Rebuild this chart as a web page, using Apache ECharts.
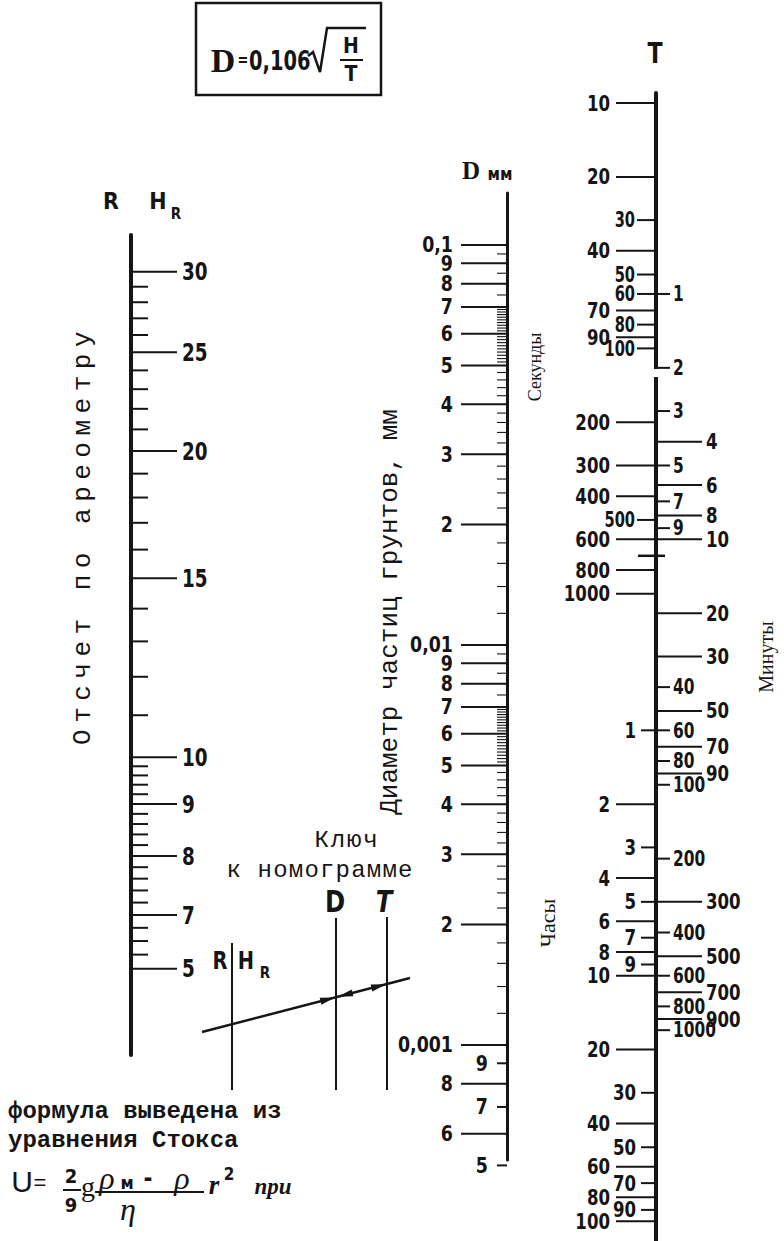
<!DOCTYPE html>
<html><head><meta charset="utf-8">
<script src="https://cdn.jsdelivr.net/npm/echarts@6/dist/echarts.min.js"></script>
<style>html,body{margin:0;padding:0;background:#fff}#c{width:784px;height:1241px}</style>
</head><body><div id="c"></div>
<script>
// ---------------- DATA ----------------
// R / H_R scale (hydrometer reading); last labelled tick printed "5" sits at reading ~6.2
const rMajor = [30, 25, 20, 15, 10, 9, 8, 7, 6.2];
const rMajorText = ['30', '25', '20', '15', '10', '9', '8', '7', '5'];
const rMinor = [29, 28, 27, 26, 24, 23, 22, 21, 19, 18, 17, 16, 14, 13, 12, 11,
  9.8, 9.6, 9.4, 9.2, 8.8, 8.6, 8.4, 8.2, 7.8, 7.6, 7.4, 7.2, 6.8, 6.6, 6.4];

// D scale, particle diameter, mm
const dMajor = [0.1, 0.09, 0.08, 0.07, 0.06, 0.05, 0.04, 0.03, 0.02,
  0.01, 0.009, 0.008, 0.007, 0.006, 0.005, 0.004, 0.003, 0.002,
  0.001, 0.0008, 0.0006];
const dMajorText = ['0,1', '9', '8', '7', '6', '5', '4', '3', '2',
  '0,01', '9', '8', '7', '6', '5', '4', '3', '2',
  '0,001', '8', '6'];
const dShort = [0.0009, 0.0007, 0.0005];
const dShortText = ['9', '7', '5'];
const dMinor = [0.095, 0.085, 0.075, 0.069, 0.068, 0.067, 0.066, 0.065, 0.064, 0.063, 0.062, 0.061,
  0.059, 0.058, 0.057, 0.056, 0.055, 0.054, 0.053, 0.052, 0.051, 0.048, 0.046, 0.044, 0.042,
  0.038, 0.036, 0.034, 0.032, 0.028, 0.026, 0.024, 0.022, 0.018, 0.016, 0.014, 0.012,
  0.0095, 0.0085, 0.0075, 0.0069, 0.0068, 0.0067, 0.0066, 0.0065, 0.0064, 0.0063, 0.0062, 0.0061,
  0.0059, 0.0058, 0.0057, 0.0056, 0.0055, 0.0054, 0.0053, 0.0052, 0.0051, 0.0048, 0.0046, 0.0044, 0.0042,
  0.0038, 0.0036, 0.0034, 0.0032, 0.0028, 0.0026, 0.0024, 0.0022, 0.0018, 0.0016, 0.0014, 0.0012];

// T scale: seconds (left), minutes (right), hours (left)
const secLong = [10, 20, 40, 70, 90, 200, 300, 400, 600, 800, 1000];
const secShort = [30, 50, 60, 80, 100, 500];
const secMark = [700];
const minLong = [4, 6, 8, 10, 20, 30, 50, 70, 90, 300, 500, 700, 900];
const minShort = [1, 2, 3, 5, 7, 9, 40, 60, 80, 100, 200, 400, 600, 800, 1000];
const hourLong = [2, 4, 6, 8, 10, 20, 40, 60, 80, 100];
const hourShort = [1, 3, 5, 7, 9, 30, 50, 70, 90];

// axis ranges (value at bottom / top end of each scale line)
const rRange = [5.10, 32.6];
const dRange = [0.0005158, 0.1349];
const tSecRange = [9.104, 433800];

// ---------------- CHART ----------------
const INK = '#151515';
const NUMF = "'Liberation Sans Narrow','DejaVu Sans Condensed','Roboto Condensed',sans-serif";
const MONO = "'Liberation Mono','DejaVu Sans Mono',monospace";
const SERIF = "'Liberation Serif','DejaVu Serif',serif";

const chart = echarts.init(document.getElementById('c'), null, {renderer: 'svg', width: 784, height: 1241});

function ticks(name, gi, yi, values, texts, o) {
  return {
    type: 'custom', name, coordinateSystem: 'cartesian2d', xAxisIndex: gi, yAxisIndex: yi,
    silent: true, animation: false, clip: false,
    data: values.map(v => [0, v]),
    renderItem: function (params, api) {
      const p = api.coord([0, api.value(1)]);
      const x = p[0], y = p[1];
      const ch = [{type: 'line', shape: {x1: x + o.t1, y1: y, x2: x + o.t2, y2: y},
        style: {stroke: INK, lineWidth: o.w || 2}}];
      if (texts) {
        ch.push({type: 'text', x: x + o.lx, y: y + (o.dy || 0), scaleX: o.sx || 0.84,
          style: {text: texts[params.dataIndex], fill: INK, align: o.align, verticalAlign: 'middle',
            fontSize: o.fs || 22, fontFamily: NUMF, fontWeight: 'bold'}});
      }
      return {type: 'group', children: ch};
    }
  };
}

const hiddenX = i => ({gridIndex: i, type: 'value', min: 0, max: 1, show: false});
const lineAxis = (i, range, width, extra) => Object.assign({
  gridIndex: i, type: 'log', logBase: 10, min: range[0], max: range[1], position: 'left',
  axisLine: {show: true, onZero: false, lineStyle: {color: INK, width: width}},
  axisTick: {show: false}, axisLabel: {show: false}, splitLine: {show: false}
}, extra || {});

// key-diagram geometry (illustration only)
const kA = [202, 1032], kB = [410, 978];
const kd = [kB[0] - kA[0], kB[1] - kA[1]];
const kl = Math.hypot(kd[0], kd[1]);
const ku = [kd[0] / kl, kd[1] / kl], kn = [-ku[1], ku[0]];
const yAtX = x => kA[1] + kd[1] * (x - kA[0]) / kd[0];
function arrow(tipX, dir) {
  const tip = [tipX, yAtX(tipX)];
  const b = [tip[0] - dir * 15 * ku[0], tip[1] - dir * 15 * ku[1]];
  return {type: 'polygon', shape: {points: [tip, [b[0] + 3.5 * kn[0], b[1] + 3.5 * kn[1]], [b[0] - 3.5 * kn[0], b[1] - 3.5 * kn[1]]]},
    style: {fill: INK}};
}
function txt(x, y, text, font, extra) {
  extra = extra || {};
  return {type: 'text', x, y, rotation: extra.rotation || 0, scaleX: extra.sx || 1,
    style: Object.assign({text, fill: INK, align: 'center', verticalAlign: 'middle', font}, extra.style || {})};
}
const vtxt = (x, y, text, font) => txt(x, y, text, font, {rotation: Math.PI / 2});
const seg = (x1, y1, x2, y2, w) => ({type: 'line', shape: {x1, y1, x2, y2}, style: {stroke: INK, lineWidth: w || 2}});

const graphics = [
  // formula box
  {type: 'rect', shape: {x: 196, y: 3, width: 185, height: 92}, style: {fill: 'none', stroke: INK, lineWidth: 2.5}},
  txt(223, 60, 'D', "bold 34px " + SERIF),
  txt(243, 60, '=', "bold 18px " + NUMF, {sx: 0.8}),
  txt(249, 61, '0,106', "bold 27px " + NUMF, {sx: 0.8, style: {align: 'left'}}),
  {type: 'polyline', shape: {points: [[308, 56], [313, 52], [320, 72], [327, 28], [366, 28]]}, style: {stroke: INK, lineWidth: 2.5, fill: 'none'}},
  txt(351, 46, 'H', "bold 21px " + NUMF),
  seg(340, 60, 363, 60, 2),
  txt(351, 74, 'T', "bold 21px " + NUMF),
  // scale headers
  txt(111, 201, 'R', "bold 23px " + NUMF),
  txt(158, 201, 'H', "bold 23px " + NUMF),
  txt(176, 214, 'R', "bold 15px " + NUMF),
  txt(471, 170, 'D', "bold 25px " + SERIF),
  txt(500, 174, 'мм', "bold 17px " + NUMF),
  txt(655, 53, 'T', "bold 29px " + NUMF, {sx: 0.85}),
  // vertical captions
  vtxt(83, 535, 'Отсчет по ареометру', "26px " + MONO),
  vtxt(390, 612, 'Диаметр частиц грунтов, мм', "26px " + MONO),
  vtxt(535, 367, 'Секунды', "18px " + SERIF),
  vtxt(547, 923, 'Часы', "22px " + SERIF),
  vtxt(766, 657, 'Минуты', "20px " + SERIF),
  // key to the nomogram
  txt(347, 840, 'Ключ', "24px " + MONO),
  txt(320, 870, 'к номограмме', "24px " + MONO),
  txt(335, 902, 'D', "bold 30px " + NUMF, {sx: 0.9}),
  txt(384, 902, 'T', "italic bold 30px " + NUMF, {sx: 0.9}),
  txt(220, 961, 'R', "bold 24px " + NUMF, {sx: 0.9}),
  txt(246, 961, 'H', "bold 24px " + NUMF, {sx: 0.9}),
  txt(265, 973, 'R', "bold 15px " + NUMF),
  seg(232, 943, 232, 1090, 2),
  seg(336, 918, 336, 1090, 2),
  seg(387, 917, 387, 1090, 2),
  seg(kA[0], kA[1], kB[0], kB[1], 2.5),
  arrow(335, 1), arrow(338, -1), arrow(386, 1),
  // Stokes note
  txt(8, 1111, 'формула выведена из', "bold 24px " + MONO, {style: {align: 'left'}}),
  txt(8, 1140, 'уравнения Стокса', "bold 24px " + MONO, {style: {align: 'left'}}),
  txt(22, 1181, 'U', "30px 'Liberation Sans',sans-serif"),
  txt(40, 1182, '=', "22px 'Liberation Sans',sans-serif"),
  txt(71, 1176, '2', "bold 20px " + NUMF),
  seg(63, 1190, 81, 1190, 2),
  txt(71, 1205, '9', "bold 20px " + NUMF),
  txt(88, 1186, 'g', "28px " + SERIF),
  txt(107, 1178, 'ρ', "italic 32px " + SERIF),
  txt(127, 1182, 'м', "bold 18px " + NUMF),
  txt(148, 1178, '-', "bold 24px " + NUMF),
  txt(182, 1178, 'ρ', "italic 32px " + SERIF),
  seg(95, 1192, 204, 1192, 2),
  txt(128, 1209, 'η', "italic 32px " + SERIF),
  txt(214, 1185, 'r', "italic bold 27px " + SERIF),
  txt(229, 1174, '2', "bold 17px " + NUMF),
  txt(273, 1186, 'при', "italic bold 23px " + SERIF),
  // small break in the T line
  {type: 'rect', z: 100, shape: {x: 649, y: 369, width: 14, height: 8}, style: {fill: '#fff'}}
];

const option = {
  backgroundColor: '#ffffff',
  animation: false,
  grid: [
    {left: 131, top: 235, height: 820, width: 60, containLabel: false, outerBoundsMode: 'none'},
    {left: 507, top: 193, height: 967, width: 60, containLabel: false, outerBoundsMode: 'none'},
    {left: 656, top: 93, height: 1148, width: 60, containLabel: false, outerBoundsMode: 'none'}
  ],
  xAxis: [hiddenX(0), hiddenX(1), hiddenX(2)],
  yAxis: [
    lineAxis(0, rRange, 4),
    lineAxis(1, dRange, 3),
    lineAxis(2, tSecRange, 4, {inverse: true}),
    lineAxis(2, [tSecRange[0] / 60, tSecRange[1] / 60], 0, {inverse: true, show: false}),
    lineAxis(2, [tSecRange[0] / 3600, tSecRange[1] / 3600], 0, {inverse: true, show: false})
  ],
  series: [
    ticks('R major', 0, 0, rMajor, rMajorText, {t1: 0, t2: 46, lx: 51, align: 'left', fs: 24, sx: 0.85}),
    ticks('R minor', 0, 0, rMinor, null, {t1: 0, t2: 17}),
    ticks('D major', 1, 1, dMajor, dMajorText, {t1: -46, t2: 0, lx: -54, align: 'right', fs: 22, sx: 0.88}),
    ticks('D short', 1, 1, dShort, dShortText, {t1: -10, t2: 0, lx: -19, align: 'right', fs: 22, sx: 0.88}),
    ticks('D minor', 1, 1, dMinor, null, {t1: -10, t2: 0, w: 1.1}),
    ticks('sec long', 2, 2, secLong, secLong.map(String), {t1: -40, t2: 0, lx: -46, align: 'right'}),
    ticks('sec short', 2, 2, secShort, secShort.map(String), {t1: -19, t2: 0, lx: -21, align: 'right', sx: 0.74}),
    ticks('sec mark', 2, 2, secMark, null, {t1: -18, t2: 9, w: 2.5}),
    ticks('min long', 2, 3, minLong, minLong.map(String), {t1: 0, t2: 46, lx: 50, align: 'left'}),
    ticks('min short', 2, 3, minShort, minShort.map(String), {t1: 0, t2: 14, lx: 17, align: 'left', sx: 0.78}),
    ticks('hour long', 2, 4, hourLong, hourLong.map(String), {t1: -40, t2: 0, lx: -46, align: 'right'}),
    ticks('hour short', 2, 4, hourShort, hourShort.map(String), {t1: -15, t2: 0, lx: -20, align: 'right'})
  ],
  graphic: {elements: graphics}
};
chart.setOption(option);

// typewriter-style letter spacing for some captions
const SPACING = {'Отсчет по ареометру': '6.5px', 'Ключ': '1.8px', 'к номограмме': '1.2px'};
function applySpacing() {
  document.querySelectorAll('#c text').forEach(t => {
    const s = SPACING[t.textContent];
    if (s) t.setAttribute('letter-spacing', s);
  });
}
applySpacing();
chart.on('finished', applySpacing);
</script>
</body></html>
